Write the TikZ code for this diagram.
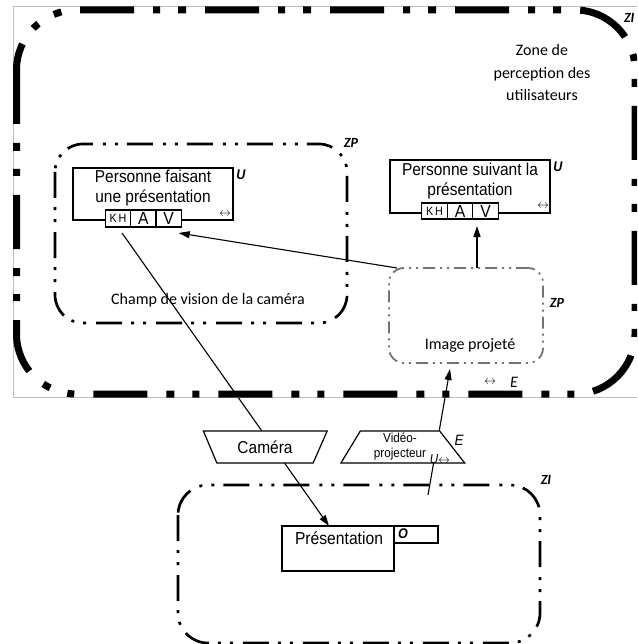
\documentclass[tikz,border=0pt]{standalone}
\usepackage{fontspec}
\setmainfont[FakeStretch=0.9]{Liberation Sans}
\newfontfamily\calib{Carlito}
\usetikzlibrary{shapes.geometric,arrows.meta,backgrounds}

\begin{document}
\begin{tikzpicture}[x=1pt, y=-1pt, >={Triangle[length=11pt,width=7pt]},
  every node/.style={inner sep=0pt, outer sep=0pt},
  pbox/.style={draw, line width=1.2pt, minimum width=160pt, minimum height=52pt},
  ptext/.style={align=center, font=\fontsize{17.2}{19.5}\selectfont},
  cell/.style={draw, fill=white, line width=1.2pt, minimum width=25.3pt, minimum height=17pt},
  ctext/.style={align=center, font=\calib\fontsize{16}{22.5}\selectfont},
  tag/.style={font=\calib\bfseries\itshape\fontsize{14}{14}\selectfont},
  utag/.style={font=\bfseries\itshape\fontsize{14}{14}\selectfont},
  small/.style={font=\fontsize{13}{15}\selectfont},
  bigzone/.style={line width=7pt, rounded corners=60pt, dash pattern=on 54pt off 19pt on 8pt off 18pt on 7pt off 19pt},
  zone/.style={line width=2.7pt, rounded corners=28pt, dash pattern=on 26pt off 9pt on 3pt off 9pt on 3pt off 10pt},
  imgzone/.style={draw, black!55, line width=1.8pt, rounded corners=15pt, dash pattern=on 12pt off 5pt on 2pt off 5pt on 2pt off 5pt, minimum width=154pt, minimum height=95pt},
  device/.style={draw, fill=white, line width=1.2pt, trapezium, trapezium stretches=true, minimum width=124pt, minimum height=32pt},
  conn/.style={line width=1.1pt}]
\useasboundingbox (0,0) rectangle (637,644);
\clip (0,0) rectangle (637,644);

\draw[black!25, line width=1pt] (13.5,7) rectangle (660,397);
\draw[bigzone] (16.5,10) rectangle (635,394);
\node[tag, anchor=west] (ziTop) at (624,18) {ZI};
\node[ctext] (zoneTxt) at (542,73) {Zone de\\perception des\\utilisateurs};
\node[font=\fontsize{13}{13}\selectfont] (eArrow) at (490,382) {$\leftrightarrow$};
\node[font=\calib\itshape\fontsize{16}{16}\selectfont] (eTag) at (514,382) {E};

\draw[zone] (55,144) rectangle (347,323);
\node[tag] (zpCam) at (351,143) {ZP};
\node[ctext] (champ) at (208,300) {Champ de vision de la caméra};

\node[pbox] (p1) at (153,194) {};
\node[ptext] (p1Txt) at (153,188) {Personne faisant\\une présentation};
\node[cell, font=\fontsize{12}{12}\selectfont] (kh) at (118,218.5) {K\,H};
\node[cell, font=\fontsize{17.5}{17.5}\selectfont] (a) at (143.4,218.5) {A};
\node[cell, font=\fontsize{17.5}{17.5}\selectfont] (v) at (168.7,218.5) {V};
\node[utag] (u1) at (241,175) {U};
\node[font=\fontsize{12}{12}\selectfont] (lr1) at (225,214) {$\leftrightarrow$};

\node[pbox, minimum height=53pt] (p2) at (470,186.5) {};
\node[ptext] (p2Txt) at (470,181) {Personne suivant la\\présentation};
\node[cell, minimum height=16pt, font=\fontsize{12}{12}\selectfont] (kh2) at (434.5,211) {K\,H};
\node[cell, minimum height=16pt, font=\fontsize{17.5}{17.5}\selectfont] (a2) at (460,211) {A};
\node[cell, minimum height=16pt, font=\fontsize{17.5}{17.5}\selectfont] (v2) at (485.5,211) {V};
\node[utag] (u2) at (558,167) {U};
\node[font=\fontsize{12}{12}\selectfont] (lr2) at (543,206) {$\leftrightarrow$};

\node[imgzone] (img) at (466,315.5) {};
\node[ctext] (imgTxt) at (470,345) {Image projeté};
\node[tag] (zpImg) at (557,303) {ZP};

\node[device, shape border rotate=180, trapezium left angle=58, trapezium right angle=59, font=\fontsize{17.2}{17.2}\selectfont] (cam) at (265,447) {Caméra};
\node[device, trapezium left angle=65, trapezium right angle=59, align=center, small] (proj) at (400,447) {Vidéo-\\projecteur};
\node[font=\itshape\fontsize{13}{13}\selectfont] (uProj) at (440,459) {U$\leftrightarrow$};
\node[font=\itshape\fontsize{15}{15}\selectfont] (eProj) at (459,440) {E};

\draw[zone, rounded corners=30pt] (178,485) rectangle (540,643);
\node[tag] (ziBot) at (546,480) {ZI};
\node[draw, line width=1.2pt, minimum width=112pt, minimum height=45pt] (pres) at (338,548.5) {};
\node[font=\fontsize{17.4}{17.4}\selectfont] (presTxt) at (339,538) {Présentation};
\node[draw, line width=1.2pt, minimum width=44pt, minimum height=17pt] (obox) at (416,534.5) {};
\node[utag, anchor=west] (oTag) at (398,534) {O};
\coordinate (vsrc) at (428,495);

\begin{pgfonlayer}{background}
\draw[conn, ->] ([xshift=4pt,yshift=-6pt]kh.south) -- ([xshift=-9pt]pres.north);
\draw[conn, ->] (vsrc) -- ([xshift=-16pt,yshift=-6pt]img.south);
\end{pgfonlayer}
\draw[conn, ->] ([xshift=8pt]img.north west) -- ([xshift=10pt,yshift=-6pt]v.south);
\draw[conn, line width=1.6pt, ->] ([xshift=11pt]img.north) -- ([xshift=-8.5pt,yshift=-7pt]v2.south);
\end{tikzpicture}
\end{document}
